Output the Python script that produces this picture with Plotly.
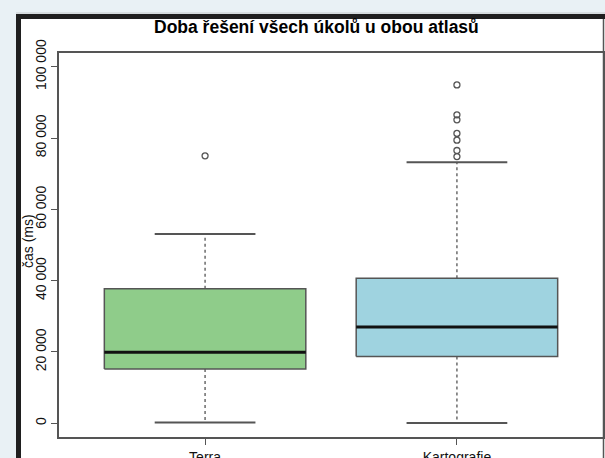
import plotly.graph_objects as go

# ---- data ----
groups = ["Terra", "Kartografie"]
lower_whisker = [200, 100]
q1 = [15200, 18700]
median = [19900, 27000]
q3 = [37700, 40700]
upper_whisker = [53100, 73200]
outliers = [
    [75000],
    [94900, 86500, 85100, 81300, 79400, 76500, 74800],
]
fill_colors = ["#8fcc8a", "#9fd3e0"]
y_tickvals = [0, 20000, 40000, 60000, 80000, 100000]
y_ticktext = ["0", "20 000", "40 000", "60 000", "80 000", "100 000"]
title_text = "Doba řešení všech úkolů u obou atlasů"
y_title = "čas (ms)"

BOXW = 0.8
W, H = 605, 458
L, R, T, B = 59, 2, 53, 21
PW, PH = W - L - R, H - T - B

def px(x):
    return (x - L) / PW

def py(y):
    return (H - B - y) / PH

fig = go.Figure()
grey = "#555555"
for i, g in enumerate(groups):
    c = i + 1
    x0, x1 = c - BOXW / 2, c + BOXW / 2
    # whiskers (dotted)
    fig.add_trace(go.Scatter(x=[c, c], y=[q3[i], upper_whisker[i]], mode="lines",
                             line=dict(color=grey, width=1.3, dash="dot"), hoverinfo="skip", showlegend=False))
    fig.add_trace(go.Scatter(x=[c, c], y=[q1[i], lower_whisker[i]], mode="lines",
                             line=dict(color=grey, width=1.3, dash="dot"), hoverinfo="skip", showlegend=False))
    # caps
    for v in (upper_whisker[i], lower_whisker[i]):
        fig.add_trace(go.Scatter(x=[c - BOXW / 4, c + BOXW / 4], y=[v, v], mode="lines",
                                 line=dict(color=grey, width=2), hoverinfo="skip", showlegend=False))
    # box
    fig.add_trace(go.Scatter(x=[x0, x1, x1, x0, x0], y=[q1[i], q1[i], q3[i], q3[i], q1[i]],
                             mode="lines", fill="toself", fillcolor=fill_colors[i],
                             line=dict(color=grey, width=1.5), name=g, showlegend=False))
    # median
    fig.add_trace(go.Scatter(x=[x0, x1], y=[median[i], median[i]], mode="lines",
                             line=dict(color="#111111", width=3), hoverinfo="skip", showlegend=False))
    # outliers
    fig.add_trace(go.Scatter(x=[c] * len(outliers[i]), y=outliers[i], mode="markers",
                             marker=dict(symbol="circle-open", size=6, color=grey, line=dict(width=1.3)),
                             showlegend=False))

shapes = [
    # dark frame of the embedded image
    dict(type="rect", xref="paper", yref="paper", x0=px(16), x1=px(W + 2), y0=py(14), y1=py(H + 2),
         fillcolor="#1f1f1f", line=dict(width=0), layer="below"),
    dict(type="rect", xref="paper", yref="paper", x0=px(21), x1=px(W + 2), y0=py(19), y1=py(H + 2),
         fillcolor="white", line=dict(width=0), layer="below"),
    dict(type="line", xref="paper", yref="paper", x0=px(16), x1=px(W + 2), y0=py(13), y1=py(13),
         line=dict(color="#c4c8ca", width=1), layer="below"),
    dict(type="line", xref="paper", yref="paper", x0=px(603.5), x1=px(603.5), y0=py(19), y1=py(H + 2),
         line=dict(color="#555555", width=1.5), layer="below"),
]

fig.update_layout(
    width=W, height=H,
    autosize=False,
    margin=dict(l=L, r=R, t=T, b=B, pad=0, autoexpand=False),
    paper_bgcolor="#e9f1f5",
    plot_bgcolor="white",
    font=dict(family="Liberation Sans, Arial, sans-serif", color="#111111", size=14),
    shapes=shapes,
    showlegend=False,
    annotations=[
        dict(text=title_text, xref="paper", yref="paper", x=px(316), y=py(27),
             xanchor="center", yanchor="middle", showarrow=False,
             font=dict(size=17.5, color="#000000", family="Liberation Sans, Arial, sans-serif", weight="bold")),
        dict(text=y_title, xref="paper", yref="paper", x=px(28), y=py(241),
             xanchor="center", yanchor="middle", textangle=-90, showarrow=False,
             font=dict(size=14, color="#111111")),
    ],
)
fig.update_xaxes(range=[0.42, 2.58], tickvals=[1, 2], ticktext=groups, ticks="outside", ticklen=6,
                 tickcolor=grey, showline=True, linecolor=grey, linewidth=1.5, mirror=True,
                 showgrid=False, zeroline=False, tickfont=dict(size=14), automargin=False)
fig.update_yaxes(range=[-3840, 103840], tickvals=y_tickvals, ticktext=y_ticktext, ticks="outside",
                 ticklen=6, tickcolor=grey, tickangle=-90, showline=True, linecolor=grey, linewidth=1.5,
                 mirror=True, showgrid=False, zeroline=False, tickfont=dict(size=14), automargin=False)

fig.write_html("out.html", config={"displayModeBar": False},
               post_script="document.body.style.margin='0';")
